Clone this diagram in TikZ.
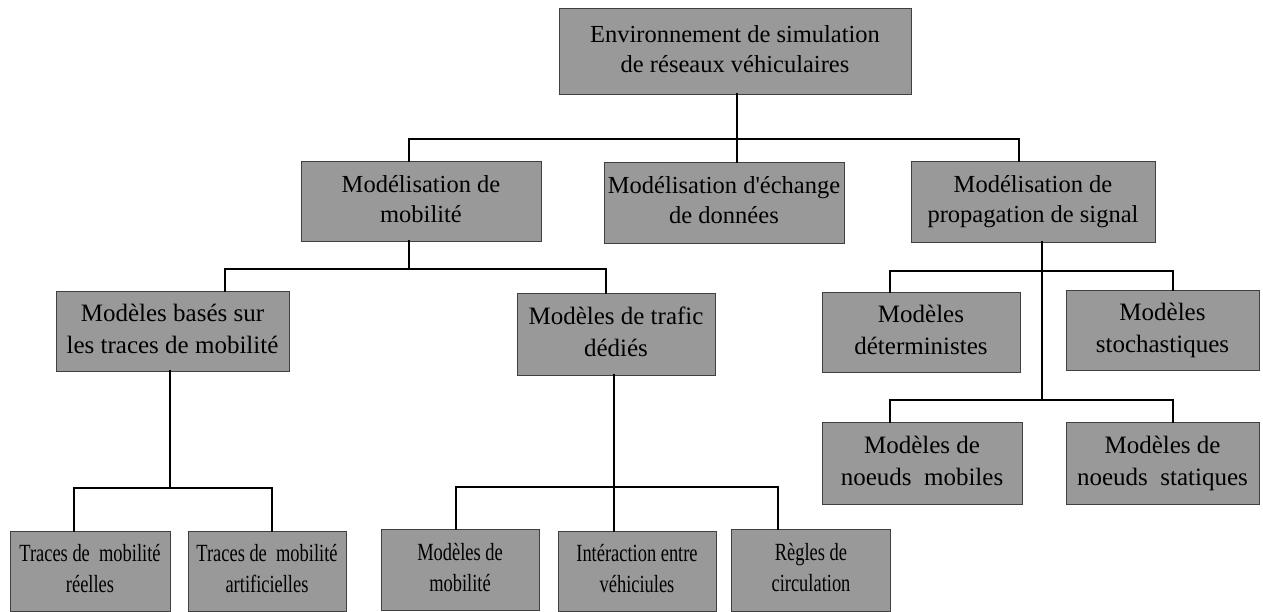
\documentclass[tikz,border=0pt]{standalone}
\usepackage{fontspec}
\setmainfont{Liberation Serif}
% two centred lines, raised by #3
\newcommand{\twolines}[3]{\raisebox{#3}{\begin{tabular}{@{}c@{}}#1\\#2\end{tabular}}}
% tall, slightly narrow lettering for the lowest row
\newcommand{\tallline}[1]{\scalebox{0.97}[1.3]{#1}}
\begin{document}
\begin{tikzpicture}[x=1pt,y=-1pt,
  box/.style={draw=black!75, line width=0.9pt, fill=boxgray, inner sep=0pt,
    font=\fontsize{24.5}{30}\selectfont},
  midbox/.style={box, font=\fontsize{25}{32}\selectfont},
  smallbox/.style={box, font=\fontsize{19}{31}\selectfont},
  link/.style={draw=black, line width=2pt, line cap=rect}]
\definecolor{boxgray}{RGB}{153,153,153}
\useasboundingbox (0,0) rectangle (1263,611);
% root
\node[box, minimum width=352pt, minimum height=86pt] (env) at (735,51)
  {\twolines{Environnement de simulation}{de réseaux véhiculaires}{3pt}};
% level 1
\node[box, minimum width=240pt, minimum height=80pt] (mob) at (421,201)
  {\twolines{Modélisation de}{mobilité}{1pt}};
\node[box, minimum width=240pt, minimum height=81pt] (ech) at (724,202.5)
  {\twolines{Modélisation d\textquotesingle échange}{de données}{1pt}};
\node[box, minimum width=244pt, minimum height=81pt] (prop) at (1033,201.5)
  {\twolines{Modélisation de}{propagation de signal}{1pt}};
% level 2, mobility side
\node[midbox, minimum width=233pt, minimum height=80pt] (bases) at (172.5,331)
  {\twolines{Modèles basés sur}{les traces de mobilité}{2pt}};
\node[midbox, minimum width=198pt, minimum height=82pt] (trafic) at (616,334)
  {\twolines{Modèles de trafic}{dédiés}{2pt}};
% level 2, propagation side
\node[midbox, minimum width=198pt, minimum height=80pt] (det) at (921,332)
  {\twolines{Modèles}{déterministes}{3pt}};
\node[midbox, minimum width=193pt, minimum height=80pt] (sto) at (1162.5,330)
  {\twolines{Modèles}{stochastiques}{2pt}};
\node[midbox, minimum width=200pt, minimum height=82pt] (nmob) at (922,463)
  {\twolines{Modèles de}{noeuds\ \ mobiles}{4pt}};
\node[midbox, minimum width=193pt, minimum height=82pt] (nsta) at (1162.5,463)
  {\twolines{Modèles de}{noeuds\ \ statiques}{4pt}};
% level 3
\node[smallbox, minimum width=160pt, minimum height=80pt] (tr1) at (90,571)
  {\twolines{\tallline{Traces de\ \ mobilité}}{\tallline{réelles}}{0pt}};
\node[smallbox, minimum width=158pt, minimum height=80pt] (tr2) at (267,571)
  {\twolines{\tallline{Traces de\ \ mobilité}}{\tallline{artificielles}}{0pt}};
\node[smallbox, minimum width=158pt, minimum height=81pt] (mm) at (460,569.5)
  {\twolines{\tallline{Modèles de}}{\tallline{mobilité}}{0pt}};
\node[smallbox, minimum width=158pt, minimum height=80pt] (inter) at (637,571)
  {\twolines{\tallline{Intéraction entre}}{\tallline{véhiciules}}{0pt}};
\node[smallbox, minimum width=159pt, minimum height=82pt] (regl) at (811,570)
  {\twolines{\tallline{Règles de}}{\tallline{circulation}}{0pt}};
% connectors
\draw[link] (env.south -| 737,0) -- (ech.north -| 737,0);
\draw[link] (mob.north -| 409,0) -- (409,139) -- (1019,139) -- (prop.north -| 1019,0);
\draw[link] (mob.south -| 409,0) -- (409,269);
\draw[link] (bases.north -| 225,0) -- (225,269) -- (606,269) -- (trafic.north -| 606,0);
\draw[link] (bases.south -| 170,0) -- (170,488);
\draw[link] (tr1.north -| 74,0) -- (74,488) -- (272,488) -- (tr2.north -| 272,0);
\draw[link] (trafic.south -| 614,0) -- (inter.north -| 614,0);
\draw[link] (mm.north -| 456,0) -- (456,487) -- (778,487) -- (regl.north -| 778,0);
\draw[link] (prop.south -| 1042,0) -- (1042,400);
\draw[link] (det.north -| 890,0) -- (890,271) -- (1173,271) -- (sto.north -| 1173,0);
\draw[link] (nmob.north -| 890,0) -- (890,400) -- (1173,400) -- (nsta.north -| 1173,0);
\end{tikzpicture}
\end{document}
